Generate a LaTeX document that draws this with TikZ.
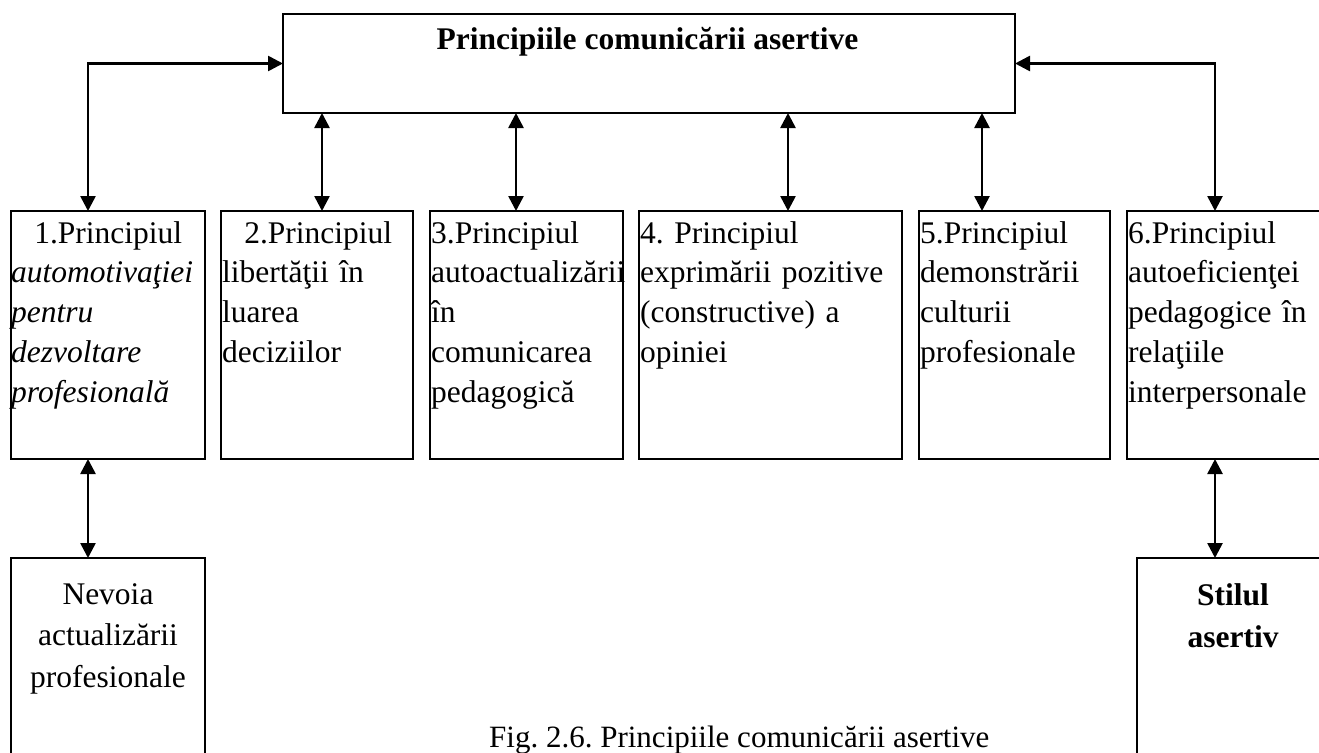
\documentclass[tikz,border=0pt]{standalone}
\usepackage{fontspec}
\setmainfont{Liberation Serif}
\usetikzlibrary{arrows.meta,calc}
\lineskiplimit=-100pt
\frenchspacing
\begin{document}
\begin{tikzpicture}[x=1pt,y=-1pt,
  box/.style={draw,line width=1.6pt,inner sep=0pt,outer sep=0pt,anchor=north west},
  link/.style={line width=2.6pt,{Triangle[length=15pt,width=15pt]}-{Triangle[length=15pt,width=15pt]}},
  body/.style={inner sep=0pt,anchor=base west,align=left,font=\fontsize{31.5}{39.8}\selectfont\frenchspacing},
  lower/.style={inner sep=0pt,anchor=base,align=center,font=\fontsize{31.5}{41.5}\selectfont},
]
\useasboundingbox (0,0) rectangle (1319,752);
\clip (0,0) rectangle (1319,752);

% title box
\node[box,minimum width=732pt,minimum height=99pt] (top) at (283,14) {};
\node[inner sep=0pt,anchor=base,font=\fontsize{31.5}{36}\selectfont\bfseries] (title)
  at ($(top.north)+(-1.5,36)$) {Principiile comunicării asertive};

% the six principle boxes
\node[box,minimum width=194pt,minimum height=248pt] (b1) at (11,211) {};
\node[box,minimum width=192pt,minimum height=248pt] (b2) at (221,211) {};
\node[box,minimum width=193pt,minimum height=248pt] (b3) at (430,211) {};
\node[box,minimum width=263pt,minimum height=248pt] (b4) at (639,211) {};
\node[box,minimum width=191pt,minimum height=248pt] (b5) at (919,211) {};
\node[box,minimum width=194pt,minimum height=248pt] (b6) at (1127,211) {};

\node[body,text width=204pt] (t1) at ($(b1.north west)+(0,32)$)
  {\makebox[194pt]{1.Principiul}\\ \textit{automotivaţiei}\\ \textit{pentru}\\ \textit{dezvoltare}\\ \textit{profesională}};
\node[body,text width=202pt] (t2) at ($(b2.north west)+(1,32)$)
  {\makebox[192pt]{2.Principiul}\\ libertăţii în\\ luarea\\ deciziilor};
\node[body,text width=203pt] (t3) at ($(b3.north west)+(1,32)$)
  {3.Principiul\\ autoactualizării\\ în\\ comunicarea\\ pedagogică};
\node[body,text width=273pt] (t4) at ($(b4.north west)+(1,32)$)
  {4. Principiul\\ exprimării pozitive\\ (constructive) a\\ opiniei};
\node[body,text width=201pt] (t5) at ($(b5.north west)+(1,32)$)
  {5.Principiul\\ demonstrării\\ culturii\\ profesionale};
\node[body,text width=204pt] (t6) at ($(b6.north west)+(1,32)$)
  {6.Principiul\\ autoeficienţei\\ pedagogice în\\ relaţiile\\ interpersonale};

% lower boxes
\node[box,minimum width=194pt,minimum height=260pt] (nv) at (11,558) {};
\node[lower,text width=194pt] (nvt) at ($(nv.north)+(0,46)$)
  {Nevoia\\ actualizării\\ profesionale};
\node[box,minimum width=192pt,minimum height=260pt] (st) at (1137,558) {};
\node[lower,text width=192pt,font=\fontsize{31.5}{42}\selectfont\bfseries] (stt) at ($(st.north)+(0,47)$)
  {Stilul\\ asertiv};

% attachment points of the connectors
\coordinate (a1) at ($(b1.north west)+(77,0)$);
\coordinate (a2) at ($(b2.north west)+(101,0)$);
\coordinate (a3) at ($(b3.north west)+(86,0)$);
\coordinate (a4) at ($(b4.north west)+(149,0)$);
\coordinate (a5) at ($(b5.north west)+(63,0)$);
\coordinate (a6) at ($(b6.north west)+(88,0)$);

% connectors
\draw[link] (a1) |- (top.west);
\draw[link] (a6) |- (top.east);
\draw[link] (top.south -| a2) -- (a2);
\draw[link] (top.south -| a3) -- (a3);
\draw[link] (top.south -| a4) -- (a4);
\draw[link] (top.south -| a5) -- (a5);
\draw[link] (b1.south -| a1) -- (nv.north -| a1);
\draw[link] (b6.south -| a6) -- (st.north -| a6);

% caption
\node[inner sep=0pt,anchor=base west,font=\fontsize{31}{36}\selectfont] (cap) at (489,747)
  {Fig. 2.6. Principiile comunicării asertive};
\end{tikzpicture}
\end{document}
